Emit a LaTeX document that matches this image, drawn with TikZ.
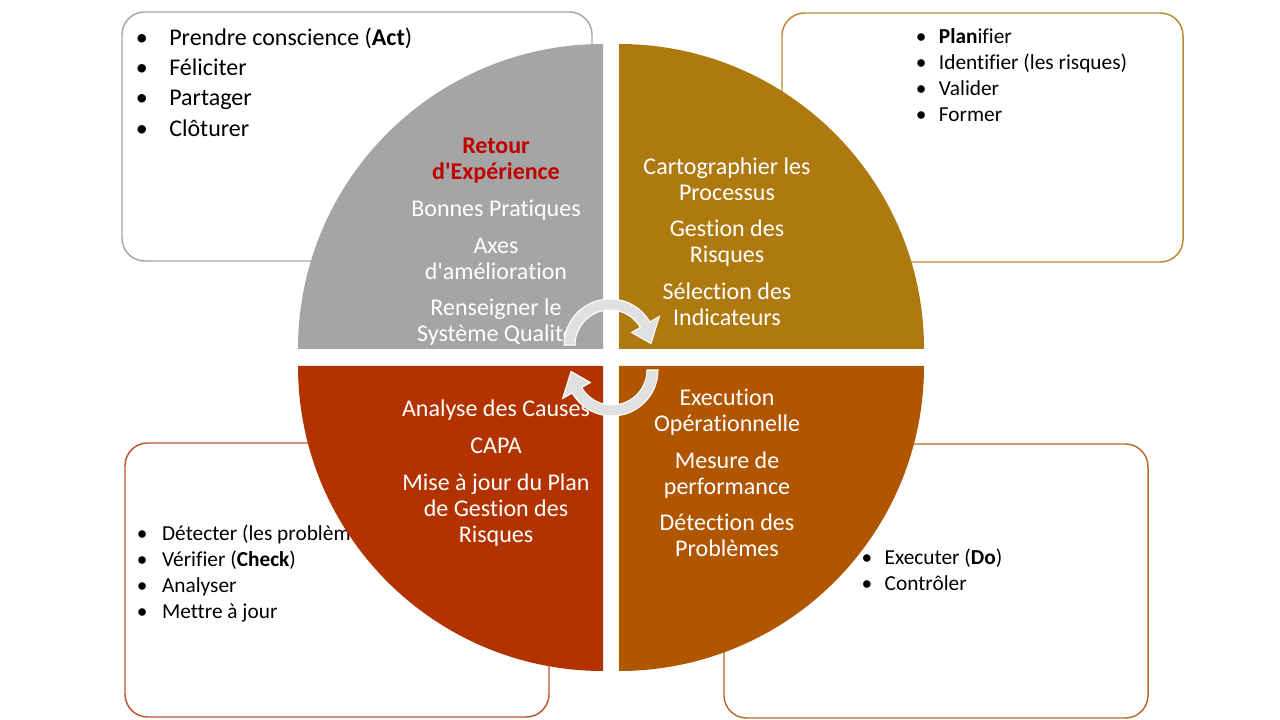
\documentclass[tikz,border=0pt]{standalone}
\usepackage{fontspec}
\setmainfont[Ligatures={TeX,NoCommon}]{Carlito}

\definecolor{cGris}{HTML}{A5A5A5}
\definecolor{cOr}{HTML}{AE7A10}
\definecolor{cRouge}{HTML}{B23300}
\definecolor{cBrun}{HTML}{B05500}
\definecolor{cTitre}{HTML}{C00000}
\definecolor{bGris}{HTML}{A6A6A6}
\definecolor{bOr}{HTML}{B8892F}
\definecolor{bRouge}{HTML}{BE5330}
\definecolor{bBrun}{HTML}{B8692E}

\newcommand{\puce}[1]{\makebox[#1][l]{\textbullet}}
\newcommand{\rex}[1]{{\color{cTitre}\bfseries #1}}
\newcommand{\apos}{\textquotesingle}

\begin{document}
\begin{tikzpicture}[x=0.75pt, y=0.75pt,
    cadre/.style={line width=1.1pt, rounded corners=17pt},
    liste/.style={anchor=west, align=left, inner sep=0pt, text=black},
    quart/.style={text=white, align=center, inner sep=0pt, font=\fontsize{18}{19.5}\selectfont},
    fleche/.style={fill=black!12, draw=white, line width=0.8pt}]
    \useasboundingbox (0,0) rectangle (1280,720);

    % Cadres des quatre étapes
    \draw[cadre, bGris]  (122,459) rectangle (592,708);
    \draw[cadre, bOr]    (782,458) rectangle (1183,707);
    \draw[cadre, bRouge] (125,3)   rectangle (549,277);
    \draw[cadre, bBrun]  (724,2)   rectangle (1148,276);

    % Listes dans les cadres
    \node[liste, font=\fontsize{18}{22.8}\selectfont] (act) at (135.7,638)
        {\puce{25pt}Prendre conscience (\textbf{Act})\\ \puce{25pt}Féliciter\\
         \puce{25pt}Partager\\ \puce{25pt}Clôturer};
    \node[liste, font=\fontsize{16}{19.5}\selectfont] (plan) at (915.7,645)
        {\puce{17.25pt}\textbf{Plan}ifier\\ \puce{17.25pt}Identifier (les risques)\\
         \puce{17.25pt}Valider\\ \puce{17.25pt}Former};
    \node[liste, font=\fontsize{16}{19.5}\selectfont] (check) at (136.5,146)
        {\puce{19pt}Détecter (les problèmes)\\ \puce{19pt}Vérifier (\textbf{Check})\\
         \puce{19pt}Analyser\\ \puce{19pt}Mettre à jour};
    \node[liste, font=\fontsize{16}{19.5}\selectfont] (do) at (861.4,150.5)
        {\puce{17.25pt}Executer (\textbf{Do})\\ \puce{17.25pt}Contrôler};

    % Quartiers du cercle
    \fill[cGris]  (603,371) -- (298,371) arc[start angle=180, end angle=90, radius=305] -- cycle;
    \fill[cOr]    (619,371) -- (619,676) arc[start angle=90, end angle=0, radius=305] -- cycle;
    \fill[cRouge] (603,354) -- (298,354) arc[start angle=180, end angle=270, radius=305] -- cycle;
    \fill[cBrun]  (619,354) -- (924,354) arc[start angle=0, end angle=-90, radius=305] -- cycle;

    % Textes des quartiers
    \node[quart] (retour) at (496,478) {\rex{Retour}\\ \rex{d\apos Expérience}\\[8pt]
        Bonnes Pratiques\\[8pt] Axes\\ d\apos amélioration\\[8pt] Renseigner le\\ Système Qualité};
    \node[quart] (carto) at (727,478.5) {Cartographier les\\ Processus\\[8pt]
        Gestion des\\ Risques\\[8pt] Sélection des\\ Indicateurs};
    \node[quart] (analyse) at (496,247) {Analyse des Causes\\[8pt] CAPA\\[8pt]
        Mise à jour du Plan\\ de Gestion des\\ Risques};
    \node[quart] (execution) at (727,247) {Execution\\ Opérationnelle\\[8pt]
        Mesure de\\ performance\\[8pt] Détection des\\ Problèmes};

    % Flèches circulaires au centre
    \foreach \cx/\cy/\rot in {610/375/0, 612/350/180} {
        \begin{scope}[shift={(\cx,\cy)}, rotate=\rot]
            \filldraw[fleche] (180:46) arc[start angle=180, end angle=30, radius=46]
                -- (30:57) -- (2:41) -- (30:25) -- (30:35)
                arc[start angle=30, end angle=180, radius=35] -- cycle;
        \end{scope}
    }

\end{tikzpicture}
\end{document}
